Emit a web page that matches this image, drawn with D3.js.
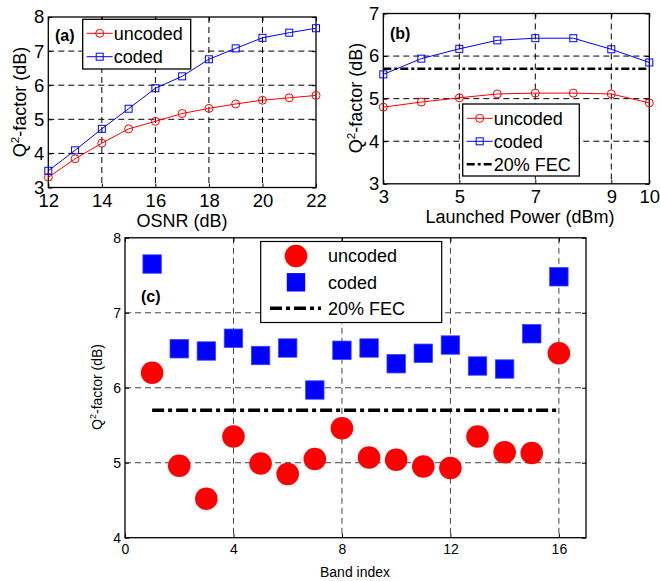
<!DOCTYPE html>
<html>
<head>
<meta charset="utf-8">
<script src="https://cdn.jsdelivr.net/npm/d3@7.9.0/dist/d3.min.js"></script>
<style>
  body { margin: 0; background: #fff; }
  svg { display: block; font-family: 'Liberation Sans', Arial, sans-serif; }
</style>
</head>
<body>
<div id="chart"></div>
<script>
// panel (a): Q-factor vs OSNR
const osnr = [12, 13, 14, 15, 16, 17, 18, 19, 20, 21, 22];
const osnrUncoded = [3.30, 3.84, 4.30, 4.72, 4.94, 5.17, 5.32, 5.45, 5.56, 5.63, 5.70];
const osnrCoded = [3.49, 4.09, 4.72, 5.31, 5.91, 6.26, 6.76, 7.08, 7.39, 7.54, 7.67];
const osnrTicks = [12, 14, 16, 18, 20, 22];

// panel (b): Q-factor vs launched power
const power = [3, 4, 5, 6, 7, 8, 9, 10];
const powerUncoded = [4.80, 4.92, 5.02, 5.11, 5.13, 5.13, 5.11, 4.90];
const powerCoded = [5.57, 5.94, 6.17, 6.37, 6.42, 6.42, 6.16, 5.85];
const powerTicks = [3, 5, 7, 9, 10];

// panel (c): Q-factor per band
const bands = [1, 2, 3, 4, 5, 6, 7, 8, 9, 10, 11, 12, 13, 14, 15, 16];
const bandUncoded = [6.20, 4.96, 4.52, 5.35, 4.99, 4.85, 5.05, 5.46, 5.07, 5.04, 4.95, 4.93, 5.35, 5.14, 5.13, 6.46];
const bandCoded = [7.65, 6.52, 6.49, 6.66, 6.43, 6.53, 5.97, 6.50, 6.53, 6.32, 6.46, 6.57, 6.29, 6.25, 6.72, 7.48];
const bandTicks = [0, 4, 8, 12, 16];

const fecLimit = 5.7;
const legendLabels = ['uncoded', 'coded', '20% FEC'];

const width = 660;
const height = 581;
const red = '#ff0000';
const blue = '#0000ff';
const fecDash = '12,4,4,4';

const svg = d3.select('#chart')
  .append('svg')
  .attr('width', width)
  .attr('height', height);

function yLabel(g, x, y, size) {
  const t = g.append('text')
    .attr('transform', `translate(${x},${y}) rotate(-90)`)
    .attr('text-anchor', 'middle')
    .attr('font-size', size);
  t.append('tspan').text('Q');
  t.append('tspan').attr('dy', -size * 0.4).attr('font-size', size * 0.65).text('2');
  t.append('tspan').attr('dy', size * 0.4).text('-factor (dB)');
}

function drawFrame(area, x, y, xTicks, yTicks, fontSize, gridColor) {
  const g = svg.append('g');

  // dashed grid
  g.append('g')
    .selectAll('line')
    .data(xTicks.filter((d) => x(d) > area.left + 1 && x(d) < area.right - 1))
    .join('line')
    .attr('x1', (d) => x(d)).attr('x2', (d) => x(d))
    .attr('y1', area.top).attr('y2', area.bottom)
    .attr('stroke', gridColor).attr('stroke-dasharray', '6,4');
  g.append('g')
    .selectAll('line')
    .data(yTicks.filter((d) => y(d) > area.top + 1 && y(d) < area.bottom - 1))
    .join('line')
    .attr('x1', area.left).attr('x2', area.right)
    .attr('y1', (d) => y(d)).attr('y2', (d) => y(d))
    .attr('stroke', gridColor).attr('stroke-dasharray', '6,4');

  // axes with inward ticks
  const fmt = d3.format('d');
  const xAxis = g.append('g')
    .attr('transform', `translate(0,${area.bottom})`)
    .call(d3.axisBottom(x).tickValues(xTicks).tickFormat(fmt).tickSizeInner(-4).tickSizeOuter(0).tickPadding(6));
  const yAxis = g.append('g')
    .attr('transform', `translate(${area.left},0)`)
    .call(d3.axisLeft(y).tickValues(yTicks).tickFormat(fmt).tickSizeInner(-4).tickSizeOuter(0).tickPadding(4));
  g.append('g')
    .attr('transform', `translate(0,${area.top})`)
    .call(d3.axisTop(x).tickValues(xTicks).tickSizeInner(-4).tickSizeOuter(0).tickFormat(''));
  g.append('g')
    .attr('transform', `translate(${area.right},0)`)
    .call(d3.axisRight(y).tickValues(yTicks).tickSizeInner(-4).tickSizeOuter(0).tickFormat(''));

  g.selectAll('.domain').remove();
  g.selectAll('.tick line').attr('stroke', '#000');
  [xAxis, yAxis].forEach((a) => a.selectAll('text')
    .attr('font-size', fontSize)
    .attr('font-family', 'Liberation Sans, Arial, sans-serif')
    .attr('fill', '#000'));

  g.append('rect')
    .attr('x', area.left).attr('y', area.top)
    .attr('width', area.right - area.left).attr('height', area.bottom - area.top)
    .attr('fill', 'none').attr('stroke', '#000').attr('stroke-width', 1.3);
  return g;
}

function drawSeries(g, xs, ys, x, y, color, marker) {
  const pts = xs.map((d, i) => [x(d), y(ys[i])]);
  g.append('path')
    .attr('d', d3.line()(pts))
    .attr('fill', 'none').attr('stroke', color).attr('stroke-width', 1);
  if (marker === 'circle') {
    g.append('g').selectAll('circle').data(pts).join('circle')
      .attr('cx', (d) => d[0]).attr('cy', (d) => d[1]).attr('r', 4)
      .attr('fill', 'none').attr('stroke', color);
  } else {
    g.append('g').selectAll('rect').data(pts).join('rect')
      .attr('x', (d) => d[0] - 3.5).attr('y', (d) => d[1] - 3.5)
      .attr('width', 7).attr('height', 7)
      .attr('fill', 'none').attr('stroke', color);
  }
}

function lineLegend(g, box, rows) {
  g.append('rect')
    .attr('x', box.x).attr('y', box.y).attr('width', box.w).attr('height', box.h)
    .attr('fill', '#fff').attr('stroke', '#000').attr('stroke-width', 1.3);
  rows.forEach((r, i) => {
    const cy = box.y + box.first + i * box.step;
    const x1 = box.x + 4, x2 = box.x + 30, xm = (x1 + x2) / 2;
    if (r.kind === 'fec') {
      g.append('line').attr('x1', x1).attr('x2', x2).attr('y1', cy).attr('y2', cy)
        .attr('stroke', '#000').attr('stroke-width', 2.5).attr('stroke-dasharray', '8,3,3,3');
    } else {
      g.append('line').attr('x1', x1).attr('x2', x2).attr('y1', cy).attr('y2', cy)
        .attr('stroke', r.color);
      if (r.kind === 'circle') {
        g.append('circle').attr('cx', xm).attr('cy', cy).attr('r', 4)
          .attr('fill', 'none').attr('stroke', r.color);
      } else {
        g.append('rect').attr('x', xm - 3.5).attr('y', cy - 3.5).attr('width', 7).attr('height', 7)
          .attr('fill', 'none').attr('stroke', r.color);
      }
    }
    g.append('text').attr('x', x2 + 1).attr('y', cy).attr('dy', '0.35em')
      .attr('font-size', 18).text(r.label);
  });
}

// ---------- panel (a)
{
  const area = { left: 48.3, right: 316, top: 17, bottom: 187.5 };
  const x = d3.scaleLinear().domain([12, 22]).range([area.left, area.right]);
  const y = d3.scaleLinear().domain([3, 8]).range([area.bottom, area.top]);
  const g = drawFrame(area, x, y, osnrTicks, [3, 4, 5, 6, 7, 8], 18.5, '#000');
  drawSeries(g, osnr, osnrUncoded, x, y, red, 'circle');
  drawSeries(g, osnr, osnrCoded, x, y, blue, 'square');
  g.append('text').attr('x', 55).attr('y', 41).attr('font-size', 16).attr('font-weight', 'bold').text('(a)');
  lineLegend(g, { x: 82.7, y: 19.3, w: 108, h: 49.7, first: 14, step: 23.4 }, [
    { kind: 'circle', color: red, label: legendLabels[0] },
    { kind: 'square', color: blue, label: legendLabels[1] },
  ]);
  g.append('text').attr('x', 182).attr('y', 227).attr('text-anchor', 'middle')
    .attr('font-size', 18).text('OSNR (dB)');
  yLabel(g, 26, 102, 18);
}

// ---------- panel (b)
{
  const area = { left: 383.3, right: 649.3, top: 13.5, bottom: 183.8 };
  const x = d3.scaleLinear().domain([3, 10]).range([area.left, area.right]);
  const y = d3.scaleLinear().domain([3, 7]).range([area.bottom, area.top]);
  const g = drawFrame(area, x, y, powerTicks, [3, 4, 5, 6, 7], 18.5, '#000');
  g.append('line')
    .attr('x1', x(3)).attr('x2', x(10)).attr('y1', y(fecLimit)).attr('y2', y(fecLimit))
    .attr('stroke', '#000').attr('stroke-width', 2.5).attr('stroke-dasharray', '8,3,3,3');
  drawSeries(g, power, powerUncoded, x, y, red, 'circle');
  drawSeries(g, power, powerCoded, x, y, blue, 'square');
  g.append('text').attr('x', 390).attr('y', 39).attr('font-size', 16).attr('font-weight', 'bold').text('(b)');
  lineLegend(g, { x: 462.7, y: 104, w: 116.6, h: 72, first: 14.3, step: 23 }, [
    { kind: 'circle', color: red, label: legendLabels[0] },
    { kind: 'square', color: blue, label: legendLabels[1] },
    { kind: 'fec', label: legendLabels[2] },
  ]);
  g.append('text').attr('x', 520).attr('y', 223).attr('text-anchor', 'middle')
    .attr('font-size', 18).text('Launched Power (dBm)');
  yLabel(g, 362, 98, 18);
}

// ---------- panel (c)
{
  const area = { left: 125, right: 586, top: 237.8, bottom: 537.7 };
  const x = d3.scaleLinear().domain([0, 17]).range([area.left, area.right]);
  const y = d3.scaleLinear().domain([4, 8]).range([area.bottom, area.top]);
  const g = drawFrame(area, x, y, bandTicks, [4, 5, 6, 7, 8], 14, '#444');
  g.append('line')
    .attr('x1', x(1)).attr('x2', x(16)).attr('y1', y(fecLimit)).attr('y2', y(fecLimit))
    .attr('stroke', '#000').attr('stroke-width', 3.5).attr('stroke-dasharray', fecDash);
  g.append('g').selectAll('rect').data(bands).join('rect')
    .attr('x', (d) => x(d) - 9.2).attr('y', (d, i) => y(bandCoded[i]) - 9.2)
    .attr('width', 18.4).attr('height', 18.4)
    .attr('fill', blue).attr('stroke', '#3344ff').attr('stroke-width', 0.8);
  g.append('g').selectAll('circle').data(bands).join('circle')
    .attr('cx', (d) => x(d)).attr('cy', (d, i) => y(bandUncoded[i]))
    .attr('r', 11.3).attr('fill', red);
  g.append('text').attr('x', 141).attr('y', 302).attr('font-size', 16).attr('font-weight', 'bold').text('(c)');

  // legend
  const lx = 260.7, ly = 241.5;
  g.append('rect').attr('x', lx).attr('y', ly).attr('width', 181).attr('height', 81)
    .attr('fill', '#fff').attr('stroke', '#000').attr('stroke-width', 1.2);
  g.append('circle').attr('cx', 296).attr('cy', 256).attr('r', 11.3).attr('fill', red);
  g.append('rect').attr('x', 296 - 9.2).attr('y', 282.3 - 9.2).attr('width', 18.4).attr('height', 18.4)
    .attr('fill', blue);
  g.append('line').attr('x1', 270).attr('x2', 321).attr('y1', 308.3).attr('y2', 308.3)
    .attr('stroke', '#000').attr('stroke-width', 3.5).attr('stroke-dasharray', fecDash);
  [256, 282.3, 308.3].forEach((cy, i) => {
    g.append('text').attr('x', 328).attr('y', cy).attr('dy', '0.35em')
      .attr('font-size', 18).text(legendLabels[i]);
  });

  g.append('text').attr('x', 355).attr('y', 577).attr('text-anchor', 'middle')
    .attr('font-size', 14).text('Band index');
  yLabel(g, 102, 387, 14);
}
</script>
</body>
</html>
